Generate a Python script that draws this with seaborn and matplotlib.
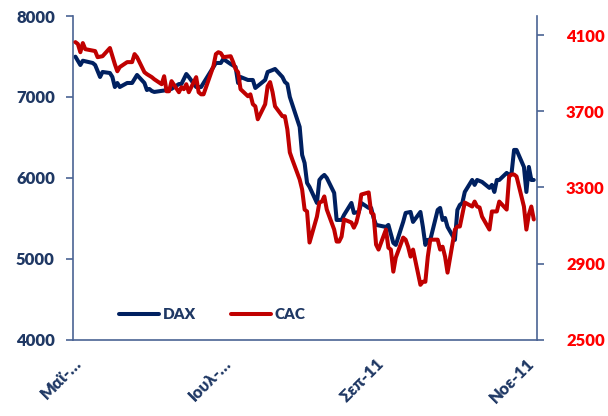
import numpy as np
import pandas as pd
import seaborn as sns
import matplotlib.pyplot as plt

# DAX (left axis)
dax_dates = [
    '2011-05-02', '2011-05-04', '2011-05-05', '2011-05-09', '2011-05-10', '2011-05-12', '2011-05-13',
    '2011-05-16', '2011-05-17', '2011-05-18', '2011-05-19', '2011-05-20', '2011-05-23', '2011-05-25',
    '2011-05-27', '2011-05-30', '2011-05-31', '2011-06-01', '2011-06-02', '2011-06-03', '2011-06-07',
    '2011-06-10', '2011-06-13', '2011-06-14', '2011-06-16', '2011-06-17', '2011-06-20', '2011-06-22',
    '2011-06-23', '2011-06-27', '2011-06-28', '2011-06-30', '2011-07-01', '2011-07-04', '2011-07-06',
    '2011-07-07', '2011-07-08', '2011-07-11', '2011-07-13', '2011-07-14', '2011-07-18', '2011-07-19',
    '2011-07-21', '2011-07-22', '2011-07-25', '2011-07-26', '2011-07-27', '2011-07-28', '2011-08-01',
    '2011-08-02', '2011-08-03', '2011-08-04', '2011-08-05', '2011-08-08', '2011-08-09', '2011-08-10',
    '2011-08-11', '2011-08-12', '2011-08-15', '2011-08-16', '2011-08-18', '2011-08-19', '2011-08-22',
    '2011-08-23', '2011-08-25', '2011-08-26', '2011-08-29', '2011-08-30', '2011-08-31', '2011-09-01',
    '2011-09-05', '2011-09-06', '2011-09-08', '2011-09-09', '2011-09-12', '2011-09-13', '2011-09-15',
    '2011-09-16', '2011-09-19', '2011-09-20', '2011-09-21', '2011-09-22', '2011-09-23', '2011-09-26',
    '2011-09-27', '2011-09-28', '2011-09-29', '2011-09-30', '2011-10-03', '2011-10-04', '2011-10-05',
    '2011-10-06', '2011-10-07', '2011-10-10', '2011-10-11', '2011-10-12', '2011-10-14', '2011-10-17',
    '2011-10-18', '2011-10-19', '2011-10-20', '2011-10-21', '2011-10-24', '2011-10-25', '2011-10-26',
    '2011-10-27', '2011-10-28', '2011-10-31', '2011-11-01', '2011-11-02', '2011-11-03', '2011-11-04',
]
dax_values = [
    7498, 7395, 7448, 7420, 7395, 7247, 7309,
    7296, 7247, 7123, 7173, 7123, 7173, 7173,
    7272, 7173, 7086, 7099, 7074, 7062, 7080,
    7100, 7160, 7160, 7284, 7247, 7123, 7123,
    7173, 7370, 7420, 7420, 7469, 7407, 7370,
    7173, 7247, 7210, 7210, 7111, 7210, 7309,
    7333, 7346, 7247, 7185, 7160, 7000, 6630,
    6284, 6185, 5938, 5889, 5691, 5975, 6012,
    6037, 6000, 5815, 5481, 5481, 5543, 5691,
    5568, 5580, 5691, 5630, 5630, 5506, 5420,
    5395, 5420, 5198, 5173, 5457, 5568, 5580,
    5457, 5580, 5395, 5173, 5235, 5235, 5605,
    5630, 5481, 5506, 5395, 5235, 5605, 5667,
    5691, 5827, 5975, 5914, 5975, 5951, 5877,
    5914, 5827, 5975, 5975, 6062, 6037, 6062,
    6346, 6346, 6136, 5827, 6136, 5975, 5975,
]

# CAC (right axis)
cac_dates = [
    '2011-05-02', '2011-05-03', '2011-05-04', '2011-05-05', '2011-05-06', '2011-05-10', '2011-05-11',
    '2011-05-13', '2011-05-16', '2011-05-17', '2011-05-18', '2011-05-19', '2011-05-20', '2011-05-23',
    '2011-05-25', '2011-05-26', '2011-05-27', '2011-05-30', '2011-05-31', '2011-06-02', '2011-06-03',
    '2011-06-06', '2011-06-07', '2011-06-08', '2011-06-09', '2011-06-10', '2011-06-13', '2011-06-14',
    '2011-06-15', '2011-06-16', '2011-06-17', '2011-06-20', '2011-06-21', '2011-06-22', '2011-06-23',
    '2011-06-24', '2011-06-27', '2011-06-28', '2011-06-29', '2011-06-30', '2011-07-01', '2011-07-04',
    '2011-07-05', '2011-07-06', '2011-07-07', '2011-07-08', '2011-07-11', '2011-07-12', '2011-07-13',
    '2011-07-14', '2011-07-15', '2011-07-18', '2011-07-19', '2011-07-20', '2011-07-21', '2011-07-22',
    '2011-07-25', '2011-07-26', '2011-07-27', '2011-07-28', '2011-07-29', '2011-08-01', '2011-08-02',
    '2011-08-03', '2011-08-04', '2011-08-05', '2011-08-08', '2011-08-09', '2011-08-10', '2011-08-11',
    '2011-08-12', '2011-08-15', '2011-08-16', '2011-08-17', '2011-08-18', '2011-08-19', '2011-08-22',
    '2011-08-23', '2011-08-24', '2011-08-25', '2011-08-26', '2011-08-29', '2011-08-30', '2011-08-31',
    '2011-09-01', '2011-09-02', '2011-09-05', '2011-09-06', '2011-09-07', '2011-09-08', '2011-09-09',
    '2011-09-12', '2011-09-13', '2011-09-14', '2011-09-15', '2011-09-16', '2011-09-19', '2011-09-20',
    '2011-09-21', '2011-09-22', '2011-09-23', '2011-09-26', '2011-09-27', '2011-09-28', '2011-09-29',
    '2011-09-30', '2011-10-03', '2011-10-04', '2011-10-05', '2011-10-06', '2011-10-07', '2011-10-10',
    '2011-10-11', '2011-10-12', '2011-10-13', '2011-10-14', '2011-10-17', '2011-10-18', '2011-10-19',
    '2011-10-20', '2011-10-21', '2011-10-24', '2011-10-25', '2011-10-26', '2011-10-27', '2011-10-28',
    '2011-10-31', '2011-11-01', '2011-11-02', '2011-11-03', '2011-11-04',
]
cac_values = [
    4063, 4053, 4010, 4058, 4026, 4016, 3984,
    3989, 4032, 3989, 3947, 3910, 3932, 3958,
    3958, 4000, 3984, 3905, 3895, 3879, 3868,
    3842, 3884, 3805, 3805, 3858, 3800, 3826,
    3816, 3842, 3800, 3879, 3800, 3789, 3789,
    3826, 3937, 4000, 4010, 4005, 3984, 3989,
    3958, 3921, 3905, 3816, 3779, 3789, 3737,
    3726, 3658, 3737, 3832, 3853, 3800, 3726,
    3674, 3674, 3605, 3484, 3447, 3342, 3289,
    3184, 3174, 3011, 3147, 3221, 3226, 3253,
    3184, 3079, 3016, 3016, 3042, 3132, 3116,
    3089, 3116, 3168, 3263, 3274, 3168, 3158,
    3000, 2974, 3079, 2984, 2974, 2858, 2932,
    3037, 3026, 2989, 2937, 2974, 2789, 2805,
    2805, 2937, 3026, 3026, 2974, 2989, 2937,
    2853, 3079, 3095, 3095, 3158, 3221, 3200,
    3226, 3200, 3195, 3147, 3079, 3174, 3174,
    3174, 3226, 3184, 3358, 3368, 3368, 3358,
    3200, 3079, 3158, 3200, 3132,
]

tick_dates = ['2011-05-01', '2011-07-01', '2011-09-01', '2011-11-01']
tick_labels = ['Μαϊ-…', 'Ιουλ-…', 'Σεπ-11', 'Νοε-11']

dax = pd.DataFrame({'date': pd.to_datetime(dax_dates), 'value': dax_values})
cac = pd.DataFrame({'date': pd.to_datetime(cac_dates), 'value': cac_values})

sns.set_style('white')
plt.rcParams['font.family'] = ['Lato', 'DejaVu Sans']

navy = '#002060'
red = '#C00000'
label_blue = '#1F3864'
spine = '#4A6394'

fig, ax = plt.subplots(figsize=(6.08, 4.16), dpi=100)
fig.subplots_adjust(left=0.12, right=0.883, bottom=0.183, top=0.9615)
ax2 = ax.twinx()

sns.lineplot(data=dax, x='date', y='value', ax=ax, color=navy, linewidth=2.9, label='DAX', legend=False)
sns.lineplot(data=cac, x='date', y='value', ax=ax2, color=red, linewidth=2.9, label='CAC', legend=False)

ax.set_xlim(pd.Timestamp('2011-05-01'), pd.Timestamp('2011-11-05 06:00'))
ax.set_ylim(4000, 8000)
ax.set_yticks([4000, 5000, 6000, 7000, 8000])
ax2.set_ylim(2500, 4200)
ax2.set_yticks([2500, 2900, 3300, 3700, 4100])

ax.set_xticks(pd.to_datetime(tick_dates))
ax.set_xticklabels(tick_labels, rotation=45, ha='right', rotation_mode='anchor')
ax.set_xlabel('')
ax.set_ylabel('')
ax2.set_ylabel('')

for a in (ax, ax2):
    for s in a.spines.values():
        s.set_color(spine)
        s.set_linewidth(1.2)
    a.spines['top'].set_visible(False)
ax.spines['right'].set_visible(False)
ax2.spines['left'].set_visible(False)
ax2.spines['bottom'].set_visible(False)

ax.tick_params(axis='y', colors=spine, labelcolor=label_blue, length=5, width=1.2, direction='out', pad=8)
ax.tick_params(axis='x', colors=spine, labelcolor=label_blue, length=5, width=1.2, direction='out', pad=6)
ax2.tick_params(axis='y', colors=spine, labelcolor='#FF0000', length=5, width=1.2, direction='out', pad=16)
for lab in ax.get_yticklabels() + ax.get_xticklabels() + ax2.get_yticklabels():
    lab.set_fontsize(12)
    lab.set_fontweight('heavy')

h1, l1 = ax.get_legend_handles_labels()
h2, l2 = ax2.get_legend_handles_labels()
leg = ax.legend(h1 + h2, l1 + l2, loc='lower left', bbox_to_anchor=(0.07, 0.015), ncol=2,
                frameon=False, handlelength=2.6, handletextpad=0.25, columnspacing=2.3,
                prop={'weight': 'heavy', 'size': 11})
for t in leg.get_texts():
    t.set_color(label_blue)

fig.savefig('out.png', dpi=100)
